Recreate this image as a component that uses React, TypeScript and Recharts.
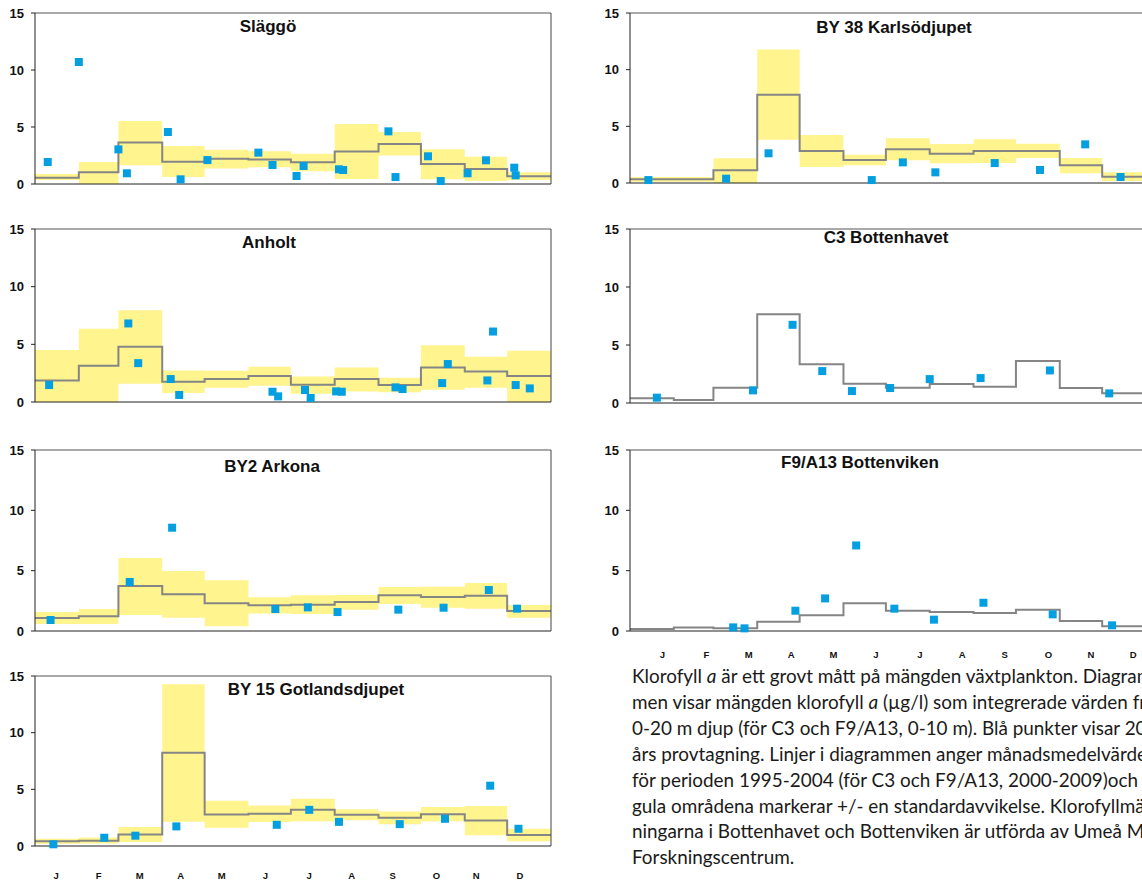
import React from "react";
import { ComposedChart, Line, Area, Scatter, XAxis, YAxis, ReferenceLine } from "recharts";

// month boundaries as day-of-year
const monthStarts = [0, 31, 59, 90, 120, 151, 181, 212, 243, 273, 304, 334];
const monthEnds = [31, 59, 90, 120, 151, 181, 212, 243, 273, 304, 334, 365];
const boundaryTicks = [0, 31, 59, 90, 120, 151, 181, 212, 243, 273, 304, 334, 365];
const monthLabels = ["J", "F", "M", "A", "M", "J", "J", "A", "S", "O", "N", "D"];
const leftLabelDays = [15, 45, 74, 103, 132, 163, 194, 224, 253, 284, 312, 343];
const rightLabelDays = [23, 54, 84, 114, 144, 174, 205, 235, 265, 296, 326, 356];
const yTicks = [0, 5, 10, 15];

// Släggö
const sleggoMean = [0.55, 1.02, 3.63, 1.96, 2.22, 2.16, 1.9, 2.84, 3.5, 1.75, 1.32, 0.67];
const sleggoHi = [0.88, 1.93, 5.53, 3.33, 3.01, 2.87, 2.66, 5.26, 4.56, 3.04, 2.4, 1.02];
const sleggoLo = [0.35, 0, 1.64, 0.61, 1.35, 1.46, 1.11, 0.44, 2.49, 0.41, 0.26, 0.35];
const sleggoDays = [9, 31, 59, 65, 94, 103, 122, 158, 168, 185, 190, 215, 218, 250, 255, 278, 287, 306, 319, 339, 340];
const sleggoVals = [1.93, 10.7, 3.04, 0.94, 4.56, 0.41, 2.1, 2.75, 1.67, 0.7, 1.58, 1.29, 1.23, 4.62, 0.61, 2.43, 0.26, 0.94, 2.08, 1.43, 0.76];

// Anholt
const anholtMean = [1.87, 3.14, 4.79, 1.76, 1.99, 2.25, 1.5, 1.99, 1.47, 3.0, 2.65, 2.25];
const anholtHi = [4.5, 6.35, 7.96, 2.74, 2.71, 3.06, 2.22, 3.0, 2.1, 4.93, 3.92, 4.44];
const anholtLo = [0, 0, 1.59, 0.78, 1.24, 1.41, 0.72, 0.92, 0.84, 1.07, 1.24, 0];
const anholtDays = [10, 66, 73, 96, 102, 168, 172, 191, 195, 213, 217, 255, 260, 288, 292, 320, 324, 340, 350];
const anholtVals = [1.47, 6.81, 3.37, 1.99, 0.61, 0.89, 0.49, 1.04, 0.35, 0.92, 0.89, 1.27, 1.12, 1.64, 3.29, 1.87, 6.11, 1.47, 1.18];

// BY2 Arkona
const arkonaMean = [1.08, 1.22, 3.73, 3.04, 2.29, 2.13, 2.18, 2.4, 2.96, 2.82, 2.93, 1.66];
const arkonaHi = [1.57, 1.82, 6.05, 4.97, 4.2, 2.79, 2.96, 2.98, 3.65, 3.67, 3.98, 2.15];
const arkonaLo = [0.58, 0.58, 1.33, 1.1, 0.39, 1.44, 1.41, 1.77, 2.24, 1.93, 1.85, 1.1];
const arkonaDays = [11, 67, 97, 170, 193, 214, 257, 289, 321, 341];
const arkonaVals = [0.91, 4.06, 8.56, 1.82, 1.96, 1.57, 1.77, 1.93, 3.4, 1.85];

// BY 15 Gotlandsdjupet
const gotlandMean = [0.41, 0.47, 1.02, 8.22, 2.78, 2.84, 3.19, 2.75, 2.49, 2.81, 2.25, 0.96];
const gotlandHi = [0.64, 0.76, 1.67, 14.27, 4.0, 3.57, 4.18, 3.25, 3.04, 3.45, 3.54, 1.52];
const gotlandLo = [0.2, 0.23, 0.35, 2.13, 1.61, 2.11, 2.19, 2.28, 1.93, 2.19, 0.94, 0.41];
const gotlandDays = [13, 49, 71, 100, 171, 194, 215, 258, 290, 322, 342];
const gotlandVals = [0.15, 0.73, 0.91, 1.73, 1.87, 3.19, 2.13, 1.93, 2.4, 5.32, 1.52];

// BY 38 Karlsödjupet
const karlsoMean = [0.32, 0.32, 1.12, 7.79, 2.82, 2.03, 2.97, 2.59, 2.82, 2.82, 1.56, 0.56];
const karlsoHi = [0.53, 0.53, 2.18, 11.79, 4.24, 2.5, 3.94, 3.44, 3.85, 3.47, 2.21, 0.94];
const karlsoLo = [0.12, 0.12, 0, 3.82, 1.41, 1.56, 2.0, 1.74, 1.76, 2.21, 0.85, 0.18];
const karlsoDays = [13, 68, 98, 171, 193, 216, 258, 290, 322, 347];
const karlsoVals = [0.26, 0.38, 2.62, 0.26, 1.82, 0.94, 1.76, 1.15, 3.41, 0.53];

// C3 Bottenhavet
const c3Mean = [0.4, 0.26, 1.32, 7.66, 3.33, 1.66, 1.32, 1.63, 1.41, 3.61, 1.29, 0.83];
const c3Days = [19, 87, 115, 136, 157, 184, 212, 248, 297, 339];
const c3Vals = [0.46, 1.09, 6.74, 2.75, 1.03, 1.29, 2.06, 2.15, 2.81, 0.83];

// F9/A13 Bottenviken
const f9Mean = [0.17, 0.28, 0.22, 0.77, 1.3, 2.29, 1.68, 1.57, 1.49, 1.76, 0.83, 0.39];
const f9Days = [73, 81, 117, 138, 160, 187, 215, 250, 299, 341];
const f9Vals = [0.3, 0.22, 1.68, 2.7, 7.09, 1.85, 0.94, 2.34, 1.38, 0.47];

const FONT = "'Liberation Sans', Arial, sans-serif";

type PanelProps = {
  left: number;
  plotTop: number;
  plotBottom: number;
  mean: number[];
  hi?: number[];
  lo?: number[];
  days: number[];
  vals: number[];
  labelDays?: number[];
  labelGap?: number;
  rightBorder: boolean;
};

function Panel({ left, plotTop, plotBottom, mean, hi, lo, days, vals, labelDays, labelGap, rightBorder }: PanelProps) {
  const topM = 8;
  const botM = labelDays ? 0 : 8;
  const xH = 6;
  const lblH = labelDays ? 30 : 0;
  const height = plotBottom - plotTop + topM + botM + xH + lblH;

  const steps: any[] = [];
  mean.forEach((m, i) => {
    const band = hi && lo ? [lo[i], hi[i]] : undefined;
    steps.push({ day: monthStarts[i], mean: m, band });
    steps.push({ day: monthEnds[i], mean: m, band });
  });
  const pts = days.map((d, i) => ({ day: d, val: vals[i] }));

  return (
    <div style={{ position: "absolute", left, top: plotTop - topM }}>
      <ComposedChart width={548} height={height} data={steps} margin={{ top: topM, right: 2, bottom: botM, left: 0 }}>
        <XAxis
          type="number"
          dataKey="day"
          domain={[0, 365]}
          ticks={boundaryTicks}
          interval={0}
          tick={false}
          tickSize={4}
          height={xH}
          axisLine={{ stroke: "#222" }}
          tickLine={{ stroke: "#222" }}
        />
        {labelDays && (
          <XAxis
            xAxisId="lbl"
            type="number"
            dataKey="day"
            domain={[0, 365]}
            allowDataOverflow
            ticks={labelDays}
            interval={0}
            tickFormatter={(v: number, i: number) => monthLabels[i]}
            axisLine={false}
            tickLine={false}
            tickSize={0}
            tickMargin={labelGap}
            height={lblH}
            tick={{ fontSize: 9.5, fontWeight: "bold", fill: "#111", fontFamily: FONT }}
          />
        )}
        <YAxis
          type="number"
          domain={[0, 15]}
          ticks={yTicks}
          interval={0}
          width={30}
          tickSize={4}
          tickMargin={7}
          axisLine={{ stroke: "#222" }}
          tickLine={{ stroke: "#222" }}
          tick={{ fontSize: 13, fontWeight: "bold", fill: "#111", fontFamily: FONT }}
        />
        {hi && (
          <Area dataKey="band" type="linear" stroke="none" fill="#fff48e" fillOpacity={1} isAnimationActive={false} />
        )}
        <Line dataKey="mean" type="linear" stroke="#858585" strokeWidth={2} dot={false} isAnimationActive={false} />
        <Scatter data={pts} dataKey="val" fill="#039fe0" shape="square" isAnimationActive={false} />
        <ReferenceLine y={15} stroke="#555" />
        {rightBorder && <ReferenceLine x={365} stroke="#444" />}
      </ComposedChart>
    </div>
  );
}

const titles = [
  { text: "Släggö", x: 268, y: 27 },
  { text: "Anholt", x: 269, y: 243 },
  { text: "BY2 Arkona", x: 272, y: 467 },
  { text: "BY 15 Gotlandsdjupet", x: 316, y: 690 },
  { text: "BY 38 Karlsödjupet", x: 894, y: 28 },
  { text: "C3 Bottenhavet", x: 886, y: 238 },
  { text: "F9/A13 Bottenviken", x: 860, y: 463 },
];

export default function App() {
  return (
    <div style={{ position: "absolute", left: 0, top: 0, width: 1142, height: 882, overflow: "hidden", background: "#fff" }}>
      <Panel left={5} plotTop={13} plotBottom={184} mean={sleggoMean} hi={sleggoHi} lo={sleggoLo} days={sleggoDays} vals={sleggoVals} rightBorder />
      <Panel left={5} plotTop={229} plotBottom={402} mean={anholtMean} hi={anholtHi} lo={anholtLo} days={anholtDays} vals={anholtVals} rightBorder />
      <Panel left={5} plotTop={450} plotBottom={631} mean={arkonaMean} hi={arkonaHi} lo={arkonaLo} days={arkonaDays} vals={arkonaVals} rightBorder />
      <Panel left={5} plotTop={676} plotBottom={846} mean={gotlandMean} hi={gotlandHi} lo={gotlandLo} days={gotlandDays} vals={gotlandVals} labelDays={leftLabelDays} labelGap={20} rightBorder />
      <Panel left={600} plotTop={13} plotBottom={183} mean={karlsoMean} hi={karlsoHi} lo={karlsoLo} days={karlsoDays} vals={karlsoVals} rightBorder={false} />
      <Panel left={600} plotTop={229} plotBottom={403} mean={c3Mean} days={c3Days} vals={c3Vals} rightBorder={false} />
      <Panel left={600} plotTop={450} plotBottom={631} mean={f9Mean} days={f9Days} vals={f9Vals} labelDays={rightLabelDays} labelGap={14} rightBorder={false} />

      {titles.map((t) => (
        <div
          key={t.text}
          style={{
            position: "absolute",
            left: t.x,
            top: t.y,
            transform: "translate(-50%, -50%)",
            fontFamily: FONT,
            fontWeight: "bold",
            fontSize: 17,
            color: "#111",
            whiteSpace: "nowrap",
          }}
        >
          {t.text}
        </div>
      ))}

      <div
        style={{
          position: "absolute",
          left: 632,
          top: 663,
          fontFamily: "Lato, 'Open Sans', sans-serif",
          fontSize: 18.9,
          lineHeight: "25.9px",
          color: "#1a1a1a",
          whiteSpace: "nowrap",
        }}
      >
        <div>Klorofyll <i>a</i> är ett grovt mått på mängden växtplankton. Diagram-</div>
        <div>men visar mängden klorofyll <i>a</i> (µg/l) som integrerade värden från</div>
        <div>0-20 m djup (för C3 och F9/A13, 0-10 m). Blå punkter visar 2010</div>
        <div>års provtagning. Linjer i diagrammen anger månadsmedelvärden</div>
        <div>för perioden 1995-2004 (för C3 och F9/A13, 2000-2009)och de</div>
        <div>gula områdena markerar +/- en standardavvikelse. Klorofyllmät-</div>
        <div>ningarna i Bottenhavet och Bottenviken är utförda av Umeå Marina</div>
        <div>Forskningscentrum.</div>
      </div>
    </div>
  );
}
